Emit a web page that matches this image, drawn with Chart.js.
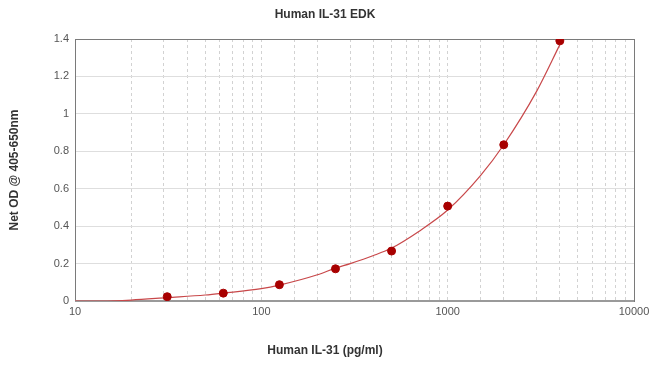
<!DOCTYPE html>
<html>
<head>
<meta charset="utf-8">
<script src="https://cdn.jsdelivr.net/npm/chart.js@4"></script>
<style>
	html, body { margin: 0; padding: 0; background: #fff; }
	#wrap { width: 650px; height: 368px; }
</style>
</head>
<body>
<div id="wrap"><canvas id="chart"></canvas></div>
<script>
// 標準点（濃度 pg/ml と OD）
const standardConc = [31.25, 62.5, 125, 250, 500, 1000, 2000, 4000];
const standardOD = [0.023, 0.042, 0.087, 0.172, 0.267, 0.507, 0.835, 1.39];

// フィット曲線（画像から読み取った点）
const curveConc = [10, 14, 20, 31.25, 50, 62.5, 100, 125, 200, 250, 300, 400, 500, 700, 1000, 1500, 2000, 3000, 4000];
const curveOD = [0.0, 0.0, 0.005, 0.018, 0.032, 0.042, 0.066, 0.085, 0.14, 0.176, 0.2, 0.243, 0.283, 0.372, 0.486, 0.67, 0.835, 1.12, 1.37];

const xTickLabels = ["10", "100", "1000", "10000"];
const yTickLabels = ["0", "0.2", "0.4", "0.6", "0.8", "1", "1.2", "1.4"];

const titleText = "Human IL-31 EDK";
const xTitle = "Human IL-31 (pg/ml)";
const yTitle = "Net OD @ 405-650nm";

const tickFont = { family: "Arial, 'Liberation Sans', sans-serif", size: 11 };
const titleFont = { family: "Arial, 'Liberation Sans', sans-serif", size: 12, weight: "bold" };

// プロット枠を描く
const framePlugin = {
	id: "frame",
	beforeDatasetsDraw(chart) {
		const { ctx, chartArea: a } = chart;
		ctx.save();
		ctx.strokeStyle = "#7a7a7a";
		ctx.lineWidth = 1;
		ctx.strokeRect(a.left + 0.5, a.top + 0.5, a.right - a.left, a.bottom - a.top);
		ctx.strokeStyle = "#9a9a9a";
		ctx.lineWidth = 2;
		ctx.beginPath();
		ctx.moveTo(a.left, a.bottom);
		ctx.lineTo(a.right, a.bottom);
		ctx.stroke();
		ctx.restore();
	},
};

new Chart(document.getElementById("chart"), {
	type: "scatter",
	data: {
		datasets: [
			{
				label: "standards",
				data: standardConc.map((x, i) => ({ x: x, y: standardOD[i] })),
				backgroundColor: "#a80000",
				borderColor: "#a80000",
				pointRadius: 4,
				showLine: false,
				order: 0,
			},
			{
				label: "fit",
				data: curveConc.map((x, i) => ({ x: x, y: curveOD[i] })),
				borderColor: "#c8484a",
				borderWidth: 1.2,
				pointRadius: 0,
				showLine: true,
				cubicInterpolationMode: "monotone",
				order: 1,
			},
		],
	},
	options: {
		responsive: true,
		maintainAspectRatio: false,
		animation: false,
		layout: { padding: { top: 0, left: 0, right: 0, bottom: 0 } },
		plugins: {
			legend: { display: false },
			tooltip: { enabled: false },
			title: {
				display: true,
				text: titleText,
				color: "#333",
				font: titleFont,
				padding: { top: 7, bottom: 17.6 },
			},
			subtitle: {
				display: true,
				position: "bottom",
				text: xTitle,
				color: "#333",
				font: titleFont,
				padding: { top: 21.6, bottom: 9.8 },
			},
		},
		scales: {
			x: {
				type: "logarithmic",
				min: 10,
				max: 10000,
				border: { display: false, dash: [3, 3] },
				grid: { color: "#d2d2d2", drawTicks: false },
				afterFit: (scale) => {
					scale.paddingRight = 16;
				},
				ticks: {
					autoSkip: false,
					maxRotation: 0,
					padding: 4,
					color: "#555",
					font: tickFont,
					callback: (v) => (xTickLabels.includes(String(v)) ? String(v) : ""),
				},
			},
			y: {
				min: 0,
				max: 1.4,
				border: { display: false },
				grid: { color: "#dedede", drawTicks: false },
				afterFit: (scale) => {
					scale.width = 75;
				},
				ticks: {
					stepSize: 0.2,
					padding: 6,
					color: "#555",
					font: tickFont,
					callback: (v, i) => yTickLabels[i],
				},
				title: {
					display: true,
					text: yTitle,
					color: "#333",
					font: titleFont,
					padding: { top: 7, bottom: 0 },
				},
			},
		},
	},
	plugins: [framePlugin],
});
</script>
</body>
</html>
